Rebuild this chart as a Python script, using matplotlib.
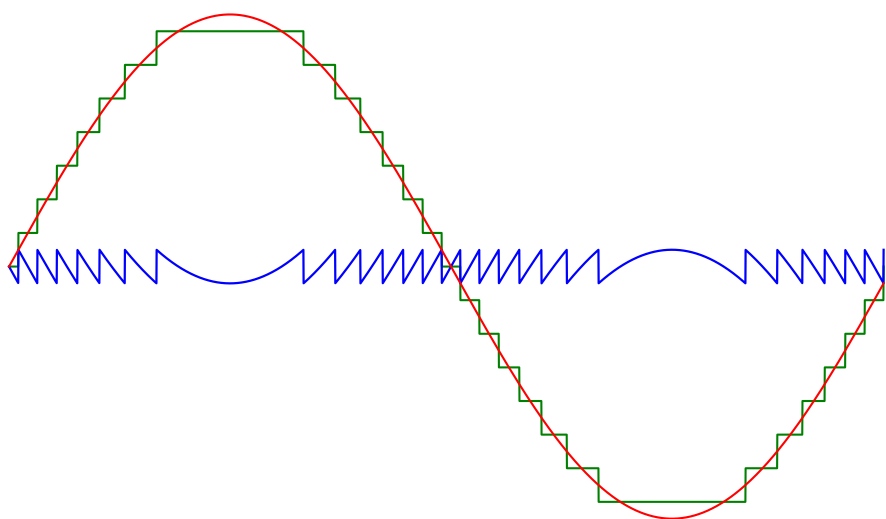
import matplotlib
matplotlib.use('Agg')
import matplotlib.pyplot as plt
import numpy as np

# signal parameters (amplitude given in quantization steps)
amplitude = 7.5
step = 1.0
phase_end = 0.9894      # fraction of one period that is drawn
n_samples = 4000

colors = {'signal': 'red', 'quantized': 'green', 'error': 'blue'}


def quantize(values, q_step):
    return q_step * np.round(values / q_step)


t = np.linspace(0, phase_end, n_samples)
signal = amplitude * np.sin(2 * np.pi * t)
quantized = quantize(signal, step)
error = quantized - signal

fig = plt.figure(figsize=(8.86, 5.19), dpi=100)
ax = fig.add_axes([0, 0, 1, 1])

ax.plot(t, quantized, color=colors['quantized'], linewidth=1.5)
ax.plot(t, error, color=colors['error'], linewidth=1.6)
ax.plot(t, signal, color=colors['signal'], linewidth=1.5)

ax.set_xlim(-0.0102, 0.9921)
ax.set_ylim(-7.51, 7.93)
ax.axis('off')

fig.savefig('out.png', dpi=100, facecolor='white')
